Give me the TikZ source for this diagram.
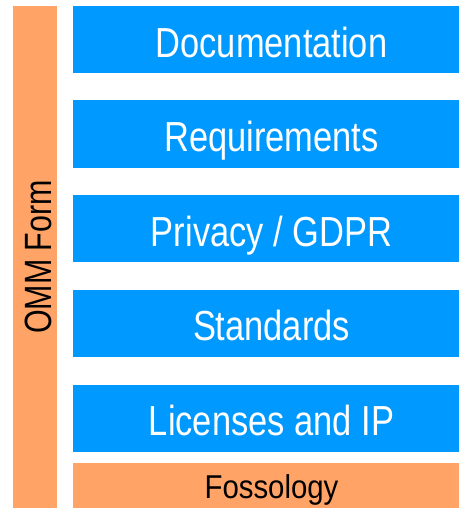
\documentclass[tikz,border=0pt]{standalone}
\usepackage{fontspec}
\setmainfont{Liberation Sans}
\usepackage{graphicx}
\usepackage{tikz}
\definecolor{ommblue}{RGB}{0,153,255}
\definecolor{ommorange}{RGB}{255,163,102}
\newcommand{\narrowtxt}[2]{\hspace*{11pt}\scalebox{#1}[1]{#2}}

\begin{document}
\begin{tikzpicture}[x=1pt,y=-1pt]
\tikzstyle{every node}+=[inner sep=0pt]
\tikzstyle{topic}=[fill=ommblue, text=white, minimum width=386pt, minimum height=67pt, text height=36pt, text depth=0.6pt, font=\fontsize{42}{42}\selectfont]
\tikzstyle{tool}=[fill=ommorange, text=black]
\useasboundingbox (0,0) rectangle (459,508);
\node [tool, rotate=90, minimum width=502pt, minimum height=44pt, text height=33.6pt, text depth=0.6pt, font=\fontsize{38}{38}\selectfont] (form) at (35,257) {\scalebox{0.8}[1]{OMM Form}};
\node [topic] (docs) at (266,40) {\narrowtxt{0.82}{Documentation}};
\node [topic] (reqs) at (266,134) {\narrowtxt{0.82}{Requirements}};
\node [topic] (gdpr) at (266,228.5) {\narrowtxt{0.82}{Privacy / GDPR}};
\node [topic] (stds) at (266,323) {\narrowtxt{0.82}{Standards}};
\node [topic] (lics) at (266,418) {\narrowtxt{0.82}{Licenses and IP}};
\node [tool, minimum width=386pt, minimum height=45pt, text height=27pt, text depth=0.6pt, font=\fontsize{33}{33}\selectfont] (foss) at (266,485.5) {\narrowtxt{0.89}{Fossology}};
\end{tikzpicture}
\end{document}
